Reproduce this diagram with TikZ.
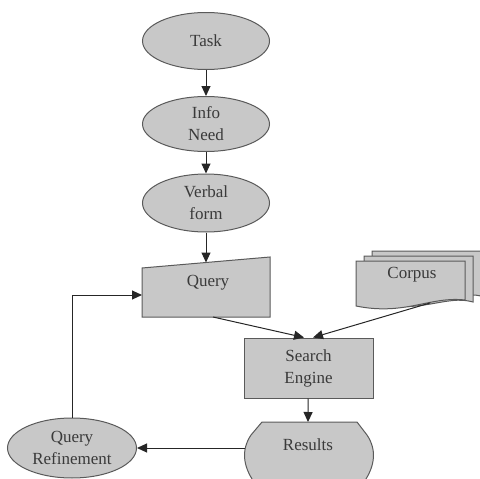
\documentclass[tikz,border=0pt]{standalone}
\usepackage{fontspec}
\setmainfont{Liberation Serif}
\usetikzlibrary{shapes.geometric,arrows.meta}
\definecolor{boxfill}{HTML}{C8C8C8}
\definecolor{boxline}{HTML}{5A5A5A}
\definecolor{txt}{HTML}{3A3A3A}
\begin{document}
\begin{tikzpicture}[x=1pt,y=-1pt,
  every node/.style={font=\fontsize{17}{22}\selectfont, text=txt, align=center},
  shapefill/.style={fill=boxfill, draw=boxline, line width=1pt},
  oval/.style={shapefill, ellipse, inner sep=0pt},
  arr/.style={-{Triangle[length=10pt,width=9pt]}, line width=1pt, draw=black!85}]
\useasboundingbox (0,0) rectangle (480,479);
\begin{scope}
\clip (0,0) rectangle (480,479);
% ellipses
\node[oval, minimum width=127pt, minimum height=57pt] (task) at (206,41) {Task};
\node[oval, minimum width=127pt, minimum height=55pt] (info) at (206,124) {Info\\Need};
\node[oval, minimum width=127pt, minimum height=58pt] (verbal) at (206,203) {Verbal\\form};
% query (manual input shape)
\coordinate (qtl) at (142,268);
\coordinate (qtr) at (270,257);
\coordinate (qbr) at (270,317);
\coordinate (qbl) at (142,317);
\draw[shapefill] (qtl) -- (qtr) -- (qbr) -- (qbl) -- cycle;
\node (query) at (208,283) {Query};
\coordinate (qtop) at (206,262.5);
\coordinate (qleft) at (142,295);
\coordinate (qbot) at (213,317);
% corpus (multi-document)
\draw[shapefill] (372,251) -- (481,251) -- (481,296) .. controls (455,290) and (430,312) .. (372,298) -- cycle;
\draw[shapefill] (364,256) -- (473,256) -- (473,302) .. controls (445,294) and (420,316) .. (364,302) -- cycle;
\draw[shapefill] (356,261) -- (465,261) -- (465,300) .. controls (430,296) and (405,316) .. (356,306) -- cycle;
\node (corpus) at (412,275) {Corpus};
\coordinate (cbot) at (430,303);
% search engine
\node[shapefill, rectangle, minimum width=129pt, minimum height=60pt, inner sep=0pt] (search) at (308.5,368) {Search\\Engine};
% results (display shape)
\draw[shapefill] (262,422) -- (357,422) -- (367,435) .. controls (377,450) and (375,466) .. (364,482) -- (254,482) .. controls (243,466) and (241,450) .. (251,435) -- cycle;
\node (results) at (308,445) {Results};
\coordinate (rtop) at (308,422);
\coordinate (rleft) at (245,448);
% query refinement
\node[oval, minimum width=129pt, minimum height=60pt] (qref) at (72,448) {Query\\Refinement};
% connectors
\draw[arr] (task) -- (info);
\draw[arr] (info) -- (verbal);
\draw[arr] (verbal) -- (qtop);
\draw[arr] (qbot) -- (search.north -| 304,0);
\draw[arr] (cbot) -- (search.north -| 313,0);
\draw[arr] (search) -- (rtop);
\draw[arr] (rleft) -- (qref);
\draw[arr] (qref.north) |- (qleft);
\end{scope}
\end{tikzpicture}
\end{document}
